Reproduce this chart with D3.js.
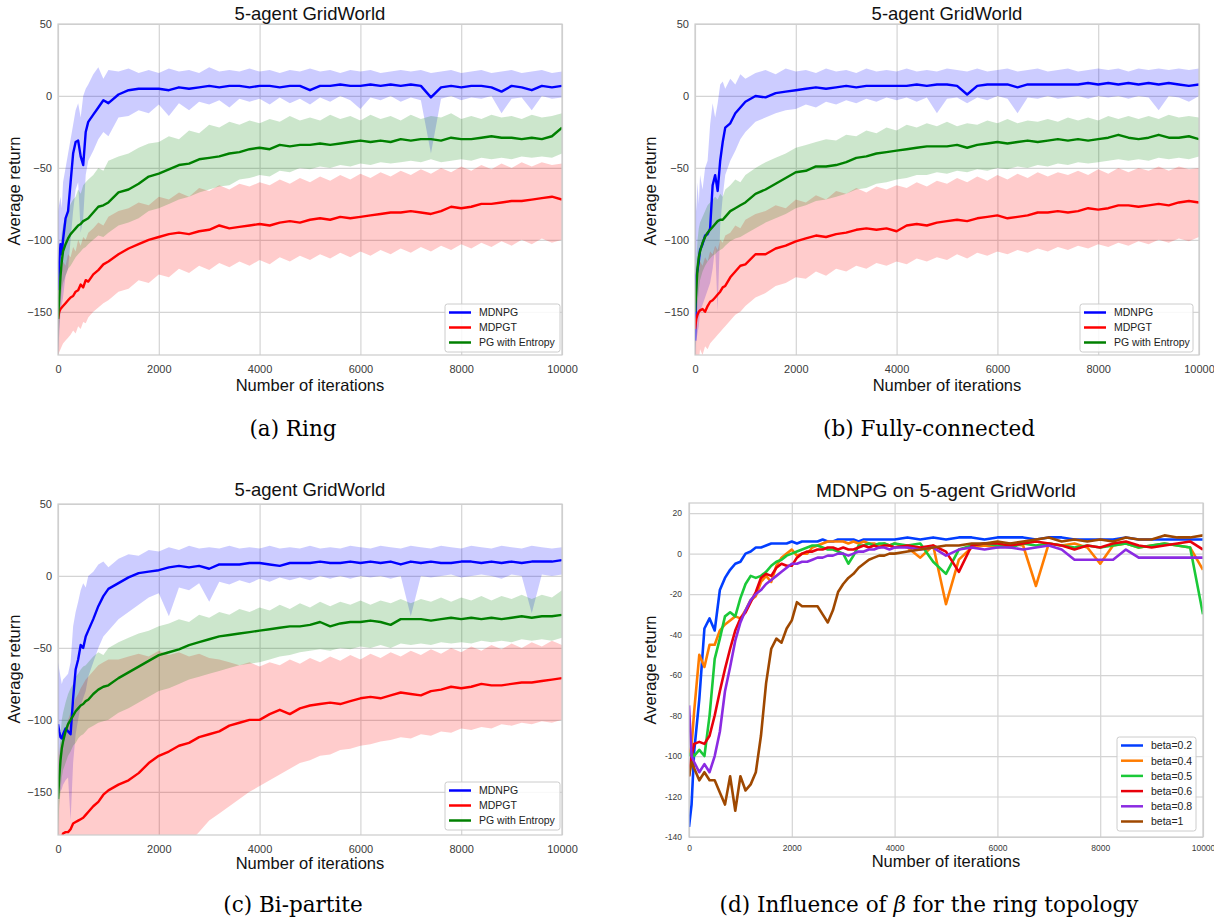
<!DOCTYPE html>
<html><head><meta charset="utf-8">
<script src="https://cdn.jsdelivr.net/npm/d3@7"></script>
<style>body{margin:0;background:#fff} svg{display:block}</style>
</head><body><svg id="chart" width="1214" height="918"></svg>
<script>
// ---------- DATA ----------
const iters = [0,25,50,75,100,150,200,250,300,350,400,450,500,550,600,700,800,900,1000,
  1200,1400,1600,1800,2000,2200,2400,2600,2800,3000,3200,3400,3600,3800,4000,4200,4400,4600,4800,5000,
  5200,5400,5600,5800,6000,6200,6400,6600,6800,7000,7200,7400,7600,7800,8000,8200,8400,8600,8800,9000,
  9200,9400,9600,9800,10000];

const methods = ["MDNPG", "MDPGT", "PG with Entropy"];
const methodColors = ["#0000ff", "#ff0000", "#008000"];

// (a) Ring
const aMDNPG = [-135,-115,-103,-110,-100,-85,-80,-60,-40,-32,-31,-42,-48,-25,-18,-13,-8,-3,-5,
  1,4,5,5,5,4,6,5,6,7, 6,7,7,6,7, 7,6,7,7,4, 7,7,8,7,7, 8,7,8,7,8, 7,-1,6,7,6, 7,7,6,3,7, 6,4,7,6,7];
const aMDNPG_hi = [-80,-75,-70,-78,-60,-50,-40,-30,-20,-10,-5,-15,0,5,8,15,20,12,18,
  17,19,16,18,16,19,17,18,16,20, 17,18,17,19,17, 18,16,18,17,19, 17,18,16,18,17, 18,16,17,18,17, 18,16,17,18,16, 17,18,16,17,18, 16,17,18,16,17];
const aMDNPG_lo = [-180,-165,-150,-145,-140,-125,-120,-100,-80,-65,-60,-95,-85,-55,-45,-38,-30,-25,-28,
  -15,-14,-10,-12,-6,-14,-5,-10,-4,-6, -3,-8,-2,-4,-2, -6,-1,-5,-2,-6, -1,-4,0,-3,-9, -1,-3,0,-4,-1, -3,-40,-2,0,-3, -1,-2,0,-12,-2, -1,-10,0,-2,-1];
const aMDPGT = [-155,-150,-148,-147,-146,-144,-142,-140,-139,-136,-135,-131,-133,-128,-129,-124,-121,-117,-115,
  -110,-106,-103,-100,-98,-96,-95,-96,-94,-93, -90,-92,-91,-90,-89, -90,-88,-87,-88,-86, -85,-86,-84,-85,-84, -83,-82,-81,-81,-80, -81,-82,-80,-77,-78, -77,-75,-75,-74,-73, -73,-72,-71,-70,-72];
const aMDPGT_hi = [-130,-125,-120,-122,-115,-118,-110,-112,-105,-108,-100,-104,-98,-100,-95,-92,-88,-90,-84,
  -80,-78,-74,-76,-70,-72,-67,-70,-64,-66, -62,-65,-61,-63,-60, -62,-58,-61,-57,-60, -56,-59,-55,-58,-54, -57,-53,-56,-52,-55, -51,-54,-50,-53,-49, -52,-48,-51,-47,-50, -46,-49,-46,-48,-47];
const aMDPGT_lo = [-180,-178,-176,-174,-172,-170,-168,-166,-163,-165,-160,-162,-157,-158,-154,-150,-147,-144,-142,
  -136,-134,-128,-130,-124,-126,-120,-123,-118,-121, -116,-119,-115,-118,-114, -117,-112,-115,-111,-114, -110,-113,-109,-112,-108, -111,-107,-110,-106,-109, -105,-108,-104,-107,-103, -106,-102,-105,-101,-104, -100,-103,-99,-102,-100];
const aPG = [-155,-140,-125,-115,-108,-103,-99,-96,-94,-92,-90,-89,-87,-86,-85,-81,-77,-76,-74,
  -67,-65,-61,-56,-54,-51,-48,-47,-44,-43, -42,-40,-39,-37,-36, -37,-34,-35,-34,-34, -33,-34,-33,-32,-31, -32,-31,-32,-30,-31, -30,-30,-31,-29,-30, -30,-29,-28,-29,-29, -30,-29,-30,-28,-22];
const aPG_hi = [-140,-120,-105,-95,-90,-85,-80,-75,-72,-70,-65,-68,-62,-60,-58,-55,-50,-52,-45,
  -42,-40,-36,-33,-32,-28,-30,-24,-26,-20, -22,-18,-20,-17,-19, -16,-18,-14,-17,-15, -17,-13,-16,-14,-17, -13,-16,-14,-17,-13, -16,-14,-15,-12,-16, -14,-16,-13,-15,-14, -16,-13,-15,-14,-12];
const aPG_lo = [-175,-160,-145,-135,-130,-125,-120,-118,-115,-112,-110,-108,-106,-105,-103,-100,-97,-98,-95,
  -90,-88,-85,-80,-78,-75,-72,-70,-67,-65, -63,-62,-58,-57,-55, -56,-52,-53,-50,-51, -49,-50,-48,-49,-47, -48,-46,-47,-46,-45, -46,-44,-46,-45,-44, -45,-43,-44,-43,-44, -42,-43,-42,-43,-40];

// (b) Fully-connected
const bMDNPG = [-170,-125,-121,-115,-107,-103,-97,-96,-92,-62,-55,-66,-45,-32,-22,-19,-12,-8,-4,
  0,-1,2,3,4,5,6,5,6,7, 6,7,7,7,7, 7,8,7,8,8, 7,1,7,8,8, 8,6,8,8,8, 8,8,8,9,8, 9,8,9,8,9, 8,9,8,7,8];
const bMDNPG_hi = [-60,-80,-60,-75,-55,-65,-50,-45,-20,-5,-15,-5,8,10,5,12,8,15,12,
  16,18,15,19,17,18,16,19,17,18, 16,19,17,18,17, 19,17,18,17,19, 18,17,19,17,18, 19,17,18,19,17, 18,19,17,18,19, 18,19,17,19,18, 19,18,19,18,19];
const bMDNPG_lo = [-180,-170,-165,-160,-150,-145,-140,-135,-130,-120,-105,-150,-90,-70,-55,-45,-38,-30,-25,
  -18,-15,-12,-10,-9,-6,-8,-4,-6,-3, -5,-2,-4,-1,-3, -1,-4,-1,-12,-2, -1,-5,-1,-3,0, -2,-12,-1,-2,0, -2,-1,0,-2,0, -1,0,-2,0,-1, -10,0,-1,-4,0];
const bMDPGT = [-162,-155,-152,-150,-149,-148,-150,-146,-143,-142,-140,-138,-136,-133,-132,-126,-122,-118,-117,
  -110,-110,-106,-104,-101,-99,-97,-98,-96,-95, -93,-92,-93,-92,-94, -90,-89,-90,-88,-87, -86,-87,-85,-84,-83, -85,-84,-83,-81,-81, -80,-81,-80,-78,-79, -78,-76,-76,-77,-76, -75,-76,-74,-73,-74];
const bMDPGT_hi = [-120,-125,-118,-122,-115,-118,-112,-115,-108,-110,-104,-107,-100,-102,-97,-95,-90,-92,-86,
  -82,-80,-76,-78,-72,-74,-69,-72,-66,-68, -64,-67,-63,-65,-62, -64,-60,-63,-59,-61, -57,-60,-56,-59,-55, -58,-54,-57,-53,-56, -53,-55,-52,-55,-51, -54,-50,-53,-50,-52, -49,-52,-49,-51,-50];
const bMDPGT_lo = [-185,-185,-180,-185,-176,-180,-174,-176,-172,-170,-168,-166,-164,-162,-160,-156,-152,-150,-146,
  -140,-137,-132,-130,-126,-127,-122,-125,-120,-122, -118,-120,-116,-118,-115, -117,-113,-115,-112,-114, -110,-113,-109,-111,-108, -110,-107,-109,-106,-108, -105,-107,-104,-106,-103, -105,-102,-104,-101,-103, -100,-102,-99,-101,-98];
const bPG = [-150,-135,-120,-112,-108,-102,-98,-95,-93,-91,-89,-87,-86,-86,-84,-80,-78,-76,-74,
  -68,-65,-61,-57,-53,-52,-49,-49,-48,-46, -43,-42,-40,-39,-38, -37,-36,-35,-35,-35, -34,-36,-34,-33,-32, -33,-32,-31,-32,-31, -30,-31,-30,-31,-30, -29,-27,-29,-30,-29, -27,-29,-29,-28,-30];
const bPG_hi = [-130,-115,-100,-92,-88,-84,-80,-76,-74,-72,-70,-72,-68,-70,-65,-62,-58,-60,-55,
  -50,-46,-43,-40,-36,-34,-32,-30,-31,-27, -28,-24,-26,-22,-24, -20,-22,-19,-21,-18, -21,-19,-20,-17,-19, -16,-19,-17,-18,-16, -18,-15,-17,-15,-17, -14,-16,-14,-16,-14, -16,-13,-15,-14,-15];
const bPG_lo = [-175,-160,-145,-135,-128,-122,-118,-115,-113,-111,-110,-108,-107,-106,-104,-101,-99,-98,-96,
  -92,-88,-85,-82,-78,-76,-73,-72,-70,-68, -65,-64,-61,-60,-58, -57,-55,-55,-53,-54, -52,-53,-51,-52,-50, -51,-49,-50,-48,-49, -47,-48,-46,-47,-46, -45,-44,-45,-44,-45, -43,-44,-43,-44,-42];

// (c) Bi-partite
const cMDNPG = [-103,-108,-112,-113,-110,-106,-108,-110,-85,-65,-58,-48,-50,-42,-38,-30,-21,-14,-9,
  -5,-1,2,3,4,6,7,6,7,5, 8,8,8,9,9, 8,7,9,9,9, 10,9,9,10,9, 10,9,10,8,10, 9,10,9,9,10, 10,9,10,9,10, 9,10,10,10,11];
const cMDNPG_hi = [-60,-65,-70,-75,-72,-70,-68,-60,-35,-25,-18,-10,-5,-8,0,3,8,10,6,
  12,15,14,18,17,20,18,21,19,20, 19,21,19,20,19, 21,19,20,19,21, 19,20,19,21,20, 19,21,20,19,21, 20,19,21,20,19, 21,20,19,21,20, 19,21,20,19,20];
const cMDNPG_lo = [-150,-145,-150,-148,-145,-142,-140,-170,-130,-110,-100,-90,-85,-80,-70,-60,-50,-42,-38,
  -30,-25,-20,-15,-12,-28,-8,-10,-5,-18, -4,-6,-3,-5,-2, -4,-1,-3,-1,-3, 0,-2,0,-2,0, -1,0,-2,0,-28, 0,-1,0,1,-1, 0,1,0,-2,1, 0,-26,1,0,1];
const cMDPGT = [-185,-185,-185,-182,-179,-178,-178,-176,-172,-171,-170,-169,-168,-166,-164,-160,-157,-152,-149,
  -145,-142,-137,-130,-125,-122,-118,-116,-112,-110, -108,-104,-102,-100,-100, -96,-93,-96,-92,-90, -89,-88,-89,-87,-85, -84,-85,-83,-81,-82, -83,-80,-79,-77,-78, -77,-75,-76,-76,-75, -74,-74,-73,-72,-71];
const cMDPGT_hi = [-120,-125,-115,-120,-110,-105,-100,-95,-90,-85,-82,-78,-75,-72,-70,-66,-62,-60,-58,
  -58,-56,-54,-56,-52,-55,-53,-56,-54,-57, -58,-60,-62,-60,-63, -60,-62,-58,-61,-57, -60,-56,-59,-55,-58, -54,-57,-53,-56,-52, -55,-51,-54,-50,-53, -49,-52,-48,-51,-47, -50,-46,-49,-45,-48];
const cMDPGT_lo = [-185,-185,-185,-185,-185,-185,-185,-185,-185,-185,-185,-185,-185,-185,-185,-185,-185,-185,-185,
  -185,-185,-185,-185,-185,-185,-185,-185,-178,-170, -165,-160,-155,-150,-146, -142,-138,-134,-130,-128, -125,-124,-121,-120,-118, -117,-115,-114,-112,-113, -110,-111,-108,-109,-106, -107,-105,-106,-103,-104, -102,-103,-101,-102,-100];
const cPG = [-155,-140,-128,-120,-115,-108,-103,-100,-97,-94,-92,-90,-89,-87,-86,-82,-79,-77,-76,
  -71,-67,-63,-59,-55,-53,-51,-48,-46,-44, -42,-41,-40,-39,-38, -37,-36,-35,-35,-34, -32,-35,-33,-32,-32, -31,-32,-34,-30,-30, -30,-31,-30,-29,-30, -29,-30,-29,-30,-29, -28,-29,-28,-28,-27];
const cPG_hi = [-140,-125,-110,-100,-95,-88,-82,-78,-75,-70,-68,-65,-63,-62,-60,-56,-53,-55,-50,
  -46,-43,-40,-38,-35,-33,-30,-32,-27,-29, -25,-27,-23,-25,-22, -24,-20,-23,-19,-22, -18,-21,-18,-20,-17, -20,-17,-19,-16,-19, -16,-18,-15,-18,-15, -17,-14,-17,-14,-16, -13,-16,-13,-15,-10];
const cPG_lo = [-175,-160,-150,-140,-135,-130,-125,-122,-118,-116,-113,-111,-110,-108,-106,-104,-102,-101,-100,
  -95,-92,-88,-84,-80,-78,-75,-72,-70,-68, -66,-64,-62,-61,-60, -58,-56,-55,-53,-52, -51,-52,-50,-51,-49, -50,-48,-50,-47,-48, -47,-48,-46,-47,-46, -47,-45,-46,-45,-46, -44,-45,-44,-45,-43];

// (d) Influence of beta
const dIters = [0,50,
  100,200,300,400,500,600,700,800,900,1000,
  1100,1200,1300,1400,1500,1600,1700,1800,1900,2000,
  2100,2200,2300,2400,2500,2600,2700,2800,2900,3000,
  3100,3200,3300,3400,3500,3600,3700,3800,3900,4000,
  4250,4500,4750,5000, 5250,5500,5750,6000, 6250,6500,6750,7000,
  7250,7500,7750,8000, 8250,8500,8750,9000, 9250,9500,9750,10000];
const betas = ["beta=0.2", "beta=0.4", "beta=0.5", "beta=0.6", "beta=0.8", "beta=1"];
const betaColors = ["#023eff", "#ff7c00", "#1ac938", "#e8000b", "#8b2be2", "#9f4800"];
const dBeta02 = [-135,-124,
  -98,-72,-37,-32,-38,-18,-12,-8,-5,-4,
  0,1,3,3,4,5,5,5,5,6,
  5,6,6,6,6,7,6,6,7,7,
  7,7,6,7,7,7,7,7,7,7,
  8,7,8,7, 8,8,7,8, 8,8,7,8, 8,7,7,7, 7,8,7,7, 7,7,7,7];
const dBeta04 = [-100,-95,
  -78,-50,-56,-45,-45,-38,-35,-33,-31,-32,
  -28,-23,-21,-14,-11,-14,-6,-2,0,2,
  -1,0,0,3,4,5,6,6,6,6,
  5,6,5,6,5,5,4,5,4,5,
  3,-2,4,-25, -3,3,4,3, 5,4,-16,5, 4,5,3,-5, 4,5,3,4, 5,4,3,-8];
const dBeta05 = [-100,-98,
  -100,-97,-100,-80,-52,-42,-31,-29,-31,-22,
  -15,-11,-12,-11,-9,-6,-4,-3,-1,0,
  1,2,3,4,4,3,2,2,1,0,
  -5,-1,4,4,5,4,5,5,4,5,
  4,5,-4,-10, 2,4,5,4, 3,5,4,5, 4,3,4,3, 4,5,3,4, 5,4,3,-30];
const dBeta06 = [-110,-100,
  -94,-93,-94,-90,-80,-68,-57,-47,-38,-32,
  -29,-24,-19,-12,-10,-11,-7,-5,-6,-6,
  -2,0,1,1,2,2,3,3,2,3,
  2,2,3,4,3,4,3,4,4,3,
  4,3,4,1, -9,4,5,5, 4,5,6,5, 4,2,4,3, 5,6,4,3, 4,5,6,2];
const dBeta08 = [-75,-100,
  -103,-108,-104,-108,-100,-88,-68,-56,-43,-34,
  -28,-23,-20,-18,-15,-13,-11,-9,-7,-5,
  -5,-4,-4,-3,-2,-2,-1,-1,0,0,
  -1,0,1,1,2,2,3,3,2,3,
  3,2,3,-1, 2,3,2,3, 3,2,3,4, 2,-3,-3,-3, -3,2,-2,-2, -2,-2,-2,-2];
const dBeta1 = [-110,-103,
  -106,-112,-108,-112,-112,-118,-124,-110,-127,-110,
  -117,-114,-108,-90,-64,-47,-42,-44,-37,-33,
  -24,-26,-26,-26,-26,-30,-34,-28,-19,-15,
  -12,-10,-7,-5,-3,-2,-1,-1,0,0,
  1,2,3,4, 4,5,5,6, 5,6,7,8, 6,7,6,7, 6,8,7,7, 9,8,8,9];

const xTicks = [0, 2000, 4000, 6000, 8000, 10000];
const yTicksABC = [50, 0, -50, -100, -150];
const yTicksD = [20, 0, -20, -40, -60, -80, -100, -120, -140];

// ---------- DRAWING ----------
const FONT = "'Liberation Sans', Arial, Helvetica, sans-serif";
const SERIF = "'DejaVu Serif', 'Liberation Serif', serif";
const GRID = "#d4d4d4";
const svg = d3.select("#chart");
const defs = svg.append("defs");
const minusFmt = d => (d < 0 ? "\u2212" + Math.abs(d) : String(d));
const hyphenFmt = d => String(d);

function drawPanel(cfg) {
  const x = d3.scaleLinear().domain([0, 10000]).range([cfg.x0, cfg.x1]);
  const y = d3.scaleLinear().domain(cfg.yDom).range([cfg.yB, cfg.yT]);
  const W = cfg.x1 - cfg.x0, H = cfg.yB - cfg.yT;
  const g = svg.append("g");

  g.append("g").attr("transform", `translate(0,${cfg.yB})`)
    .call(d3.axisBottom(x).tickValues(xTicks).tickSize(-H).tickFormat(""))
    .call(s => { s.select(".domain").remove(); s.selectAll("line").attr("stroke", GRID).attr("stroke-width", 1.2); });
  g.append("g").attr("transform", `translate(${cfg.x0},0)`)
    .call(d3.axisLeft(y).tickValues(cfg.yTicks).tickSize(-W).tickFormat(""))
    .call(s => { s.select(".domain").remove(); s.selectAll("line").attr("stroke", GRID).attr("stroke-width", 1.2); });

  defs.append("clipPath").attr("id", cfg.id).append("rect")
    .attr("x", cfg.x0).attr("y", cfg.yT).attr("width", W).attr("height", H);
  const plot = g.append("g").attr("clip-path", `url(#${cfg.id})`);

  const xs = cfg.iters;
  if (cfg.bands) {
    cfg.bands.forEach(b => {
      const area = d3.area().x((d, i) => x(xs[i])).y0((d, i) => y(b.lo[i])).y1((d, i) => y(b.hi[i]));
      plot.append("path").datum(xs).attr("d", area).attr("fill", b.color).attr("fill-opacity", 0.2).attr("stroke", "none");
    });
  }
  cfg.lines.forEach(l => {
    const line = d3.line().x((d, i) => x(xs[i])).y(d => y(d));
    plot.append("path").datum(l.values).attr("d", line).attr("fill", "none")
      .attr("stroke", l.color).attr("stroke-width", cfg.lw).attr("stroke-linejoin", "round");
  });

  g.append("rect").attr("x", cfg.x0).attr("y", cfg.yT).attr("width", W).attr("height", H)
    .attr("fill", "none").attr("stroke", "#cccccc").attr("stroke-width", 1.2);

  g.append("g").attr("transform", `translate(${cfg.x0},0)`)
    .call(d3.axisLeft(y).tickValues(cfg.yTicks).tickSize(0).tickPadding(cfg.padY).tickFormat(cfg.fmt))
    .call(s => { s.select(".domain").remove(); s.attr("font-family", FONT).attr("font-size", cfg.tf); s.selectAll("text").attr("fill", "#3a3a3a"); });
  g.append("g").attr("transform", `translate(0,${cfg.yB})`)
    .call(d3.axisBottom(x).tickValues(xTicks).tickSize(0).tickPadding(cfg.padX).tickFormat(cfg.fmt))
    .call(s => { s.select(".domain").remove(); s.attr("font-family", FONT).attr("font-size", cfg.tf); s.selectAll("text").attr("fill", "#3a3a3a"); });

  const cx = (cfg.x0 + cfg.x1) / 2;
  g.append("text").attr("x", cx).attr("y", cfg.titleY).attr("text-anchor", "middle")
    .attr("font-family", FONT).attr("font-size", cfg.titleSize).attr("fill", "#111").text(cfg.title);
  g.append("text").attr("x", cx).attr("y", cfg.xlabY).attr("text-anchor", "middle")
    .attr("font-family", FONT).attr("font-size", 16.5).attr("fill", "#111").text("Number of iterations");
  g.append("text").attr("transform", `translate(${cfg.ylabX},${cfg.ylabCY}) rotate(-90)`).attr("text-anchor", "middle")
    .attr("font-family", FONT).attr("font-size", 16.5).attr("fill", "#111").text("Average return");

  // legend
  const L = cfg.legend;
  const lg = g.append("g");
  lg.append("rect").attr("x", L.x).attr("y", L.y).attr("width", L.w).attr("height", L.h).attr("rx", 2.5)
    .attr("fill", "#fff").attr("fill-opacity", 0.85).attr("stroke", "#cccccc").attr("stroke-width", 1);
  L.names.forEach((n, i) => {
    const yy = L.y + L.first + i * L.step;
    lg.append("line").attr("x1", L.x + 4).attr("x2", L.x + 26).attr("y1", yy).attr("y2", yy)
      .attr("stroke", L.colors[i]).attr("stroke-width", 2.5);
    lg.append("text").attr("x", L.x + 34).attr("y", yy + 3.8).attr("font-family", FONT).attr("font-size", 10.5)
      .attr("fill", "#222").text(n);
  });

  // caption
  const cap = svg.append("text").attr("x", cfg.capX).attr("y", cfg.capY).attr("text-anchor", "middle")
    .attr("font-family", SERIF).attr("font-size", 21.5).attr("fill", "#000");
  cfg.caption.forEach(p => { const t = cap.append("tspan").text(p.t); if (p.it) t.attr("font-style", "italic"); });
}

function methodPanel(id, x0, x1, yT, yB, mean, lo, hi, titleY, xlabY, ylabX, ylabCY, legend, capX, capY, caption) {
  drawPanel({
    id, x0, x1, yT, yB, yDom: [-180, 50], yTicks: yTicksABC, fmt: minusFmt, tf: 11, padX: 10, padY: 6, lw: 2.4,
    iters,
    bands: methods.map((m, i) => ({ lo: lo[i], hi: hi[i], color: methodColors[i] })),
    lines: methods.map((m, i) => ({ values: mean[i], color: methodColors[i] })),
    title: "5-agent GridWorld", titleSize: 18.5, titleY, xlabY, ylabX, ylabCY,
    legend: Object.assign({ names: methods, colors: methodColors, w: 115, h: 48, first: 8.5, step: 15 }, legend),
    capX, capY, caption
  });
}

methodPanel("ca", 58, 562, 24, 355, [aMDNPG, aMDPGT, aPG], [aMDNPG_lo, aMDPGT_lo, aPG_lo], [aMDNPG_hi, aMDPGT_hi, aPG_hi],
  20, 391, 20, 191, { x: 445, y: 304 }, 293, 436, [{ t: "(a) Ring" }]);
methodPanel("cb", 695, 1199, 24, 355, [bMDNPG, bMDPGT, bPG], [bMDNPG_lo, bMDPGT_lo, bPG_lo], [bMDNPG_hi, bMDPGT_hi, bPG_hi],
  20, 391, 656, 191, { x: 1080, y: 304, w: 113 }, 929, 436, [{ t: "(b) Fully-connected" }]);
methodPanel("cc", 58, 562, 504, 835, [cMDNPG, cMDPGT, cPG], [cMDNPG_lo, cMDPGT_lo, cPG_lo], [cMDNPG_hi, cMDPGT_hi, cPG_hi],
  496, 869, 20, 669, { x: 445, y: 782 }, 293, 912, [{ t: "(c) Bi-partite" }]);

const dSeries = [dBeta02, dBeta04, dBeta05, dBeta06, dBeta08, dBeta1];
drawPanel({
  id: "cd", x0: 689, x1: 1203, yT: 503, yB: 837, yDom: [-140, 25], yTicks: yTicksD, fmt: hyphenFmt, tf: 8.5, padX: 8, padY: 7, lw: 2.6,
  iters: dIters,
  lines: dSeries.map((s, i) => ({ values: s, color: betaColors[i] })),
  title: "MDNPG on 5-agent GridWorld", titleSize: 19.2, titleY: 497, xlabY: 867, ylabX: 656, ylabCY: 670,
  legend: { names: betas, colors: betaColors, x: 1117, y: 737, w: 79, h: 94, first: 8.5, step: 15.2 },
  capX: 929, capY: 912,
  caption: [{ t: "(d) Influence of " }, { t: "\u03B2", it: true }, { t: " for the ring topology" }]
});
</script>
</body></html>
